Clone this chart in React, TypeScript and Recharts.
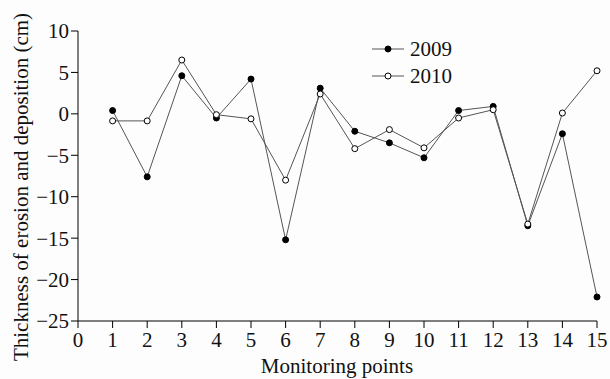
import { LineChart, Line, XAxis, YAxis, Legend } from "recharts";

const points = [1, 2, 3, 4, 5, 6, 7, 8, 9, 10, 11, 12, 13, 14, 15];
const y2009 = [0.4, -7.6, 4.6, -0.5, 4.2, -15.2, 3.1, -2.1, -3.5, -5.3, 0.4, 0.9, -13.5, -2.4, -22.1];
const y2010 = [-0.85, -0.85, 6.5, -0.1, -0.6, -8.0, 2.4, -4.2, -1.9, -4.1, -0.5, 0.5, -13.3, 0.1, 5.2];
const xTicks = [0, 1, 2, 3, 4, 5, 6, 7, 8, 9, 10, 11, 12, 13, 14, 15];
const yTicks = [-25, -20, -15, -10, -5, 0, 5, 10];

const data = points.map((p, i) => ({ point: p, a: y2009[i], b: y2010[i] }));

const FONT = "'Liberation Serif', 'Times New Roman', serif";
const LINE = "#555";
const FS = 21;

const YLabel = () => (
  <text
    x={21}
    y={187}
    transform="rotate(-90 21 187)"
    textAnchor="middle"
    dominantBaseline="central"
    fontFamily={FONT}
    fontSize={FS}
    fill="#111"
  >
    Thickness of erosion and deposition (cm)
  </text>
);

const XLabel = () => (
  <text x={337} y={366} textAnchor="middle" dominantBaseline="central" fontFamily={FONT} fontSize={FS} fill="#111">
    Monitoring points
  </text>
);

const LegendBox = () => (
  <svg width={120} height={60}>
    {[
      { label: "2009", fill: "#000", y: 14 },
      { label: "2010", fill: "#fff", y: 41 },
    ].map((it) => (
      <g key={it.label}>
        <line x1={0} x2={32} y1={it.y} y2={it.y} stroke={LINE} strokeWidth={1} />
        <circle cx={16} cy={it.y} r={3} fill={it.fill} stroke="#000" strokeWidth={1} />
        <text x={38} y={it.y} dominantBaseline="central" fontFamily={FONT} fontSize={FS} fill="#111">
          {it.label}
        </text>
      </g>
    ))}
  </svg>
);

export default function App() {
  return (
    <div style={{ position: "absolute", left: 0, top: 0, background: "#fdfdfd" }}>
      <LineChart width={610} height={379} data={data} margin={{ top: 31, right: 13, bottom: 0, left: 0 }}>
        <XAxis
          dataKey="point"
          type="number"
          domain={[0, 15]}
          ticks={xTicks}
          interval={0}
          height={58}
          stroke="#000"
          tickSize={7}
          tickMargin={4}
          tick={{ fontFamily: FONT, fontSize: FS, fill: "#111" }}
          label={<XLabel />}
        />
        <YAxis
          type="number"
          domain={[-25, 10]}
          ticks={yTicks}
          interval={0}
          width={78}
          stroke="#000"
          tickSize={7}
          tickMargin={2}
          tick={{ fontFamily: FONT, fontSize: FS, fill: "#111" }}
          tickFormatter={(v: number) => (v < 0 ? `\u2212${-v}` : `${v}`)}
          label={<YLabel />}
        />
        <Legend
          content={<LegendBox />}
          layout="vertical"
          align="center"
          verticalAlign="middle"
          wrapperStyle={{ left: 372, top: 35, width: 120 }}
        />
        <Line
          dataKey="a"
          name="2009"
          stroke={LINE}
          strokeWidth={1}
          dot={{ r: 3, fill: "#000", stroke: "#000", strokeWidth: 1 }}
          isAnimationActive={false}
        />
        <Line
          dataKey="b"
          name="2010"
          stroke={LINE}
          strokeWidth={1}
          dot={{ r: 3, fill: "#fff", stroke: "#000", strokeWidth: 1 }}
          isAnimationActive={false}
        />
      </LineChart>
    </div>
  );
}
